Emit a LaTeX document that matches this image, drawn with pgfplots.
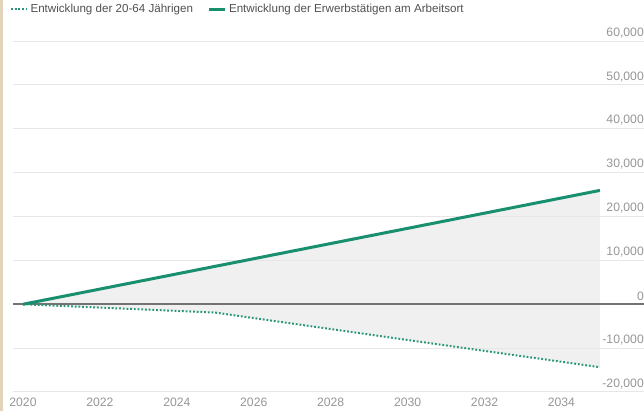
\documentclass[border=0pt]{standalone}
\usepackage{fontspec}
\setmainfont{Liberation Sans}
\usepackage{pgfplots}
\pgfplotsset{compat=1.18}
\definecolor{cGreen}{RGB}{24,143,110}
\definecolor{cDot}{RGB}{40,150,120}
\definecolor{cGrid}{RGB}{230,230,230}
\definecolor{cFill}{RGB}{240,240,240}
\definecolor{cTick}{RGB}{150,150,150}
\definecolor{cLeg}{RGB}{80,80,80}
\definecolor{cZero}{RGB}{115,115,115}
\definecolor{cEdge}{RGB}{226,212,188}
\begin{document}
\begin{tikzpicture}
\fill[cEdge] (0bp,0bp) rectangle (2.5bp,411bp);
\begin{axis}[
  at={(13bp,19bp)}, anchor=south west,
  scale only axis, width=631bp, height=351bp,
  x coord trafo/.code={\pgfmathparse{#1-2020}},
  x coord inv trafo/.code={\pgfmathparse{#1+2020}},
  xmin=2019.74, xmax=2036.146,
  ymin=-20000, ymax=60000,
  set layers,
  axis line style={draw=none},
  clip=false,
  font=\fontsize{12.2bp}{14bp}\selectfont,
  xtick={2020,2022,2024,2026,2028,2030,2032,2034},
  xticklabels={2020,2022,2024,2026,2028,2030,2032,2034},
  xticklabel style={anchor=north, inner sep=0pt, yshift=-6bp, text=cTick},
  ytick={-20000,-10000,10000,20000,30000,40000,50000,60000},
  extra y ticks={0},
  extra y tick style={grid style={cZero, line width=1.6bp}},
  yticklabel pos=right,
  yticklabel style={anchor=south east, inner sep=0pt, xshift=0bp, yshift=3bp, text=cTick},
  ymajorgrids, grid style={cGrid, line width=1bp},
  major tick length=0pt,
  /pgf/number format/.cd, 1000 sep={,}, assume math mode=true,
  /pgfplots/.cd,
  scaled y ticks=false,
  legend columns=2,
  legend style={at={(-0.005,1.091)}, anchor=west,
    draw=none, fill=none, inner sep=0pt, text=cLeg,
    font=\fontsize{11.6bp}{14bp}\selectfont,
    /tikz/every even column/.append style={column sep=12bp},
    nodes={inner xsep=2.5bp}},
  legend image code/.code={\draw[#1] (0bp,0bp) -- (16bp,0bp);},
]
\addplot[fill=cFill, draw=none, forget plot, on layer=axis background]
  coordinates {(2020,0) (2025,8650) (2030,17300) (2035,25950)
               (2035,-14350) (2030,-8150) (2025,-1900) (2020,0)} -- cycle;
\addplot[cDot, line width=2bp, dash pattern=on 1.8bp off 1.9bp]
  coordinates {(2020,0) (2025,-1900) (2030,-8150) (2035,-14350)};
\addlegendentry{Entwicklung der 20-64 Jährigen}
\addplot[cGreen, line width=3bp]
  coordinates {(2020,0) (2025,8650) (2030,17300) (2035,25950)};
\addlegendentry{Entwicklung der Erwerbstätigen am Arbeitsort}
\end{axis}
\pgfresetboundingbox
\useasboundingbox (0bp,0bp) rectangle (644bp,411bp);
\end{tikzpicture}
\end{document}
